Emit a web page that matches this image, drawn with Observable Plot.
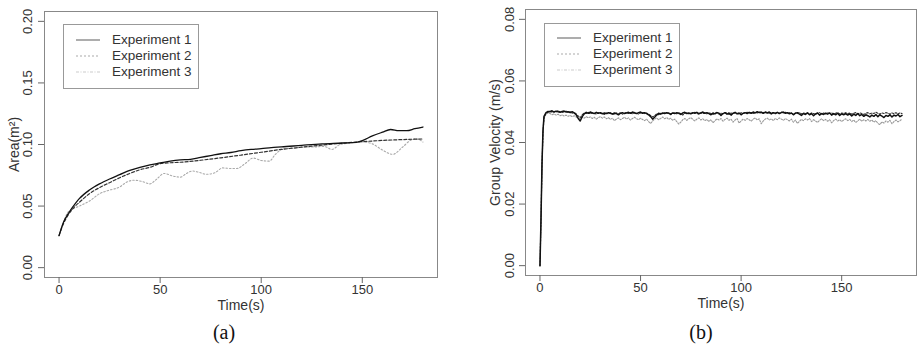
<!DOCTYPE html>
<html><head><meta charset="utf-8">
<script src="https://cdn.jsdelivr.net/npm/d3@7"></script>
<script src="https://cdn.jsdelivr.net/npm/@observablehq/plot@0.6"></script>
<style>
body{margin:0;background:#fff;}
#wrap{position:relative;width:917px;height:345px;overflow:hidden;font-family:"Liberation Sans",Arial,sans-serif;background:#fff;}
.panel{position:absolute;top:0;}
.legend{position:absolute;border:1px solid #999;background:#fff;box-sizing:border-box;}
.row{position:absolute;height:16px;line-height:16px;font-size:13.5px;color:#333;white-space:nowrap;}
.cap{position:absolute;font-family:"Liberation Serif","Times New Roman",serif;font-size:20px;color:#111;transform:translate(-50%,-50%);}
</style></head><body><div id="wrap"></div>
<script>
// ---------- shared ----------
const seriesNames = ["Experiment 1", "Experiment 2", "Experiment 3"];
const timeTicks = [0, 50, 100, 150];

// ---------- panel (a): Area ----------
const areaTicks = [0.00, 0.05, 0.10, 0.15, 0.20];
const areaTime1 = [0,2,5,8,10,15,20,25,30,35,40,45,50,55,60,65,70,75,80,85,90,95,100,105,110,120,130,140,147,150,155,160,164,168,172,176,180];
const areaExp1  = [.026,.036,.045,.052,.056,.063,.068,.072,.0755,.079,.0815,.0835,.085,.0865,.0875,.088,.0895,.091,.0925,.0935,.095,.096,.0966,.0975,.098,.0993,.1005,.1012,.1018,.1032,.107,.110,.1122,.1113,.1112,.1128,.1142];
const areaTime2 = [0,2,5,8,10,15,20,25,30,35,40,45,50,55,60,70,80,90,100,110,120,130,140,150,160,170,180];
const areaExp2  = [.026,.035,.044,.050,.053,.060,.065,.069,.073,.0765,.0795,.0815,.0845,.0852,.0856,.0872,.0892,.0914,.0937,.096,.0978,.0995,.101,.1023,.1033,.104,.1045];
const areaTime3 = [0,2,4,6,10,15,20,25,30,33,37,41,45,48,52,56,60,63,66,69,73,77,81,85,88,92,96,100,104,107,111,116,121,126,131,135,139,143,150,155,160,165,170,174,177,180];
const areaExp3  = [.026,.036,.044,.047,.050,.054,.060,.063,.0655,.069,.071,.070,.068,.0715,.0765,.0745,.0735,.0765,.0785,.0775,.0758,.077,.081,.0805,.0805,.0845,.089,.087,.0865,.092,.0965,.097,.098,.098,.0985,.096,.100,.101,.1022,.1005,.0955,.092,.098,.1035,.1045,.102];

// ---------- panel (b): Group velocity ----------
const velTicks = [0.00, 0.02, 0.04, 0.06, 0.08];
const velTime = [0, 0.5, 1, 1.5, 2].concat(d3.range(3, 181));
const velExp1 = [0,.0150,.0330,.0440,.0485,
.0497,.0501,.0500,.0503,.0499,.0502,.0500,.0498,.0501,.0502,
.0499,.0500,.0497,.0500,.0496,.0490,.0478,.0470,.0484,.0493,
.0498,.0495,.0499,.0496,.0494,.0498,.0495,.0497,.0493,.0496,
.0494,.0497,.0495,.0492,.0496,.0494,.0490,.0495,.0497,.0494,
.0496,.0498,.0495,.0499,.0496,.0494,.0497,.0499,.0495,.0497,
.0494,.0490,.0484,.0476,.0482,.0489,.0495,.0492,.0496,.0494,
.0497,.0495,.0492,.0496,.0494,.0497,.0495,.0491,.0496,.0498,
.0494,.0496,.0493,.0497,.0495,.0498,.0494,.0496,.0499,.0495,
.0497,.0494,.0490,.0496,.0493,.0497,.0495,.0488,.0494,.0497,
.0492,.0496,.0489,.0495,.0498,.0493,.0496,.0490,.0495,.0497,
.0494,.0498,.0495,.0499,.0496,.0500,.0497,.0499,.0495,.0498,
.0496,.0499,.0493,.0497,.0495,.0498,.0494,.0497,.0499,.0495,
.0497,.0493,.0496,.0490,.0495,.0497,.0492,.0488,.0494,.0491,
.0496,.0490,.0494,.0487,.0493,.0496,.0489,.0494,.0491,.0495,
.0492,.0496,.0489,.0494,.0490,.0495,.0488,.0493,.0490,.0494,
.0489,.0493,.0486,.0492,.0488,.0494,.0487,.0491,.0485,.0490,
.0487,.0483,.0489,.0485,.0491,.0484,.0490,.0486,.0481,.0488,
.0485,.0490,.0483,.0489,.0486,.0491,.0484,.0488];
const velExp2 = [0,.0145,.0325,.0435,.0482,
.0495,.0499,.0502,.0498,.0501,.0499,.0503,.0500,.0497,.0500,
.0502,.0498,.0500,.0495,.0498,.0493,.0486,.0481,.0490,.0496,
.0494,.0498,.0493,.0497,.0495,.0492,.0497,.0494,.0496,.0491,
.0496,.0493,.0497,.0494,.0491,.0496,.0493,.0497,.0492,.0495,
.0498,.0494,.0497,.0493,.0498,.0495,.0492,.0496,.0498,.0494,
.0496,.0492,.0488,.0483,.0487,.0493,.0490,.0495,.0493,.0497,
.0494,.0496,.0490,.0495,.0497,.0493,.0496,.0494,.0489,.0495,
.0497,.0493,.0496,.0494,.0498,.0495,.0492,.0497,.0494,.0496,
.0493,.0497,.0494,.0491,.0495,.0498,.0492,.0496,.0493,.0497,
.0495,.0491,.0496,.0493,.0497,.0495,.0492,.0497,.0494,.0496,
.0498,.0495,.0497,.0494,.0498,.0496,.0499,.0495,.0497,.0500,
.0497,.0495,.0498,.0496,.0493,.0497,.0495,.0499,.0496,.0498,
.0494,.0497,.0495,.0492,.0496,.0494,.0497,.0493,.0496,.0494,
.0497,.0493,.0496,.0494,.0491,.0495,.0497,.0492,.0496,.0493,
.0497,.0494,.0496,.0492,.0495,.0497,.0493,.0496,.0494,.0497,
.0493,.0496,.0492,.0495,.0497,.0493,.0496,.0494,.0491,.0495,
.0497,.0493,.0496,.0494,.0498,.0495,.0492,.0496,.0494,.0497,
.0495,.0492,.0496,.0494,.0497,.0493,.0496,.0494];
const velExp3 = [0,.0140,.0320,.0430,.0478,
.0492,.0496,.0494,.0490,.0493,.0489,.0492,.0487,.0490,.0486,
.0489,.0485,.0488,.0484,.0487,.0483,.0480,.0478,.0482,.0479,
.0484,.0480,.0483,.0478,.0482,.0476,.0481,.0484,.0479,.0483,
.0477,.0481,.0475,.0479,.0471,.0476,.0480,.0474,.0478,.0482,
.0476,.0480,.0473,.0478,.0482,.0477,.0474,.0479,.0475,.0471,
.0476,.0468,.0462,.0470,.0476,.0480,.0474,.0478,.0483,.0477,
.0481,.0475,.0479,.0472,.0476,.0468,.0460,.0466,.0474,.0478,
.0472,.0477,.0481,.0475,.0470,.0476,.0480,.0473,.0477,.0471,
.0475,.0468,.0474,.0464,.0471,.0477,.0473,.0478,.0469,.0475,
.0479,.0472,.0476,.0466,.0473,.0478,.0463,.0470,.0476,.0472,
.0478,.0474,.0469,.0476,.0480,.0473,.0477,.0461,.0470,.0476,
.0479,.0473,.0477,.0471,.0478,.0474,.0480,.0476,.0472,.0478,
.0474,.0470,.0476,.0466,.0473,.0462,.0469,.0475,.0471,.0477,
.0473,.0478,.0468,.0474,.0470,.0465,.0472,.0477,.0471,.0475,
.0469,.0474,.0464,.0471,.0476,.0470,.0474,.0468,.0473,.0477,
.0471,.0475,.0468,.0473,.0465,.0470,.0476,.0469,.0474,.0470,
.0475,.0469,.0473,.0466,.0471,.0462,.0458,.0467,.0463,.0470,
.0466,.0472,.0461,.0468,.0473,.0467,.0471,.0476];

// ---------- styles ----------
const lineStylesA = [
  {stroke: "#111", strokeWidth: 1.3, strokeDasharray: null},
  {stroke: "#333", strokeWidth: 1.2, strokeDasharray: "3,2"},
  {stroke: "#aaa", strokeWidth: 1.1, strokeDasharray: "1.5,2"}
];
const lineStylesB = [
  {stroke: "#111", strokeWidth: 1.5, strokeDasharray: null},
  {stroke: "#333", strokeWidth: 1.1, strokeDasharray: "2,1.5"},
  {stroke: "#999", strokeWidth: 1.1, strokeDasharray: "1.5,1.5"}
];
const legendStyles = [
  {stroke: "#999", dash: null, w: 1.6},
  {stroke: "#aaa", dash: "2,2", w: 1.2},
  {stroke: "#ccc", dash: "3,1.5,1,1.5", w: 1.2}
];

function toRows(times, vals) { return vals.map((v, i) => ({t: times[i], v})); }

function makePanel(o) {
  const marks = [
    Plot.frame({stroke: "#888", strokeWidth: 1}),
    Plot.axisX({ticks: timeTicks, tickSize: 6, tickFormat: () => "", stroke: "#666", label: null}),
    Plot.axisY({ticks: o.yTicks, tickSize: 6, tickFormat: () => "", stroke: "#666", label: null}),
    Plot.text(timeTicks, {x: d => d, frameAnchor: "bottom", dy: 12, text: d => String(d), fontSize: 13, fill: "#333", textAnchor: "middle", lineAnchor: "middle"}),
    Plot.text(o.yTicks, {y: d => d, frameAnchor: "left", dx: o.yLabDx, rotate: -90, text: d => d3.format(".2f")(d), fontSize: 13, fill: "#333", textAnchor: "middle", lineAnchor: "middle"}),
    Plot.text(["Time(s)"], {frameAnchor: "bottom", dy: o.xTitleDy, text: d => d, fontSize: 14, fill: "#333", textAnchor: "middle", lineAnchor: "middle"}),
    Plot.text([o.yTitle], {frameAnchor: "left", dx: o.yTitleDx, rotate: -90, text: d => d, fontSize: 14, fill: "#333", textAnchor: "middle", lineAnchor: "middle"})
  ];
  [2, 1, 0].forEach(k => {
    marks.push(Plot.line(o.series[k], {x: "t", y: "v", curve: o.curve, ...o.styles[k]}));
  });
  return Plot.plot({
    width: o.width, height: 318,
    marginLeft: o.mL, marginRight: o.mR, marginTop: o.mT, marginBottom: o.mB,
    x: {domain: [-7.2, 187.2], axis: null},
    y: {domain: o.yDomain, axis: null},
    style: {fontFamily: "'Liberation Sans', Arial, sans-serif", background: "white", overflow: "visible"},
    marks
  });
}

const wrap = document.getElementById("wrap");

function addPanel(left, o) {
  const div = document.createElement("div");
  div.className = "panel";
  div.style.left = left + "px";
  div.appendChild(makePanel(o));
  wrap.appendChild(div);
}

addPanel(0, {
  width: 460, mL: 44, mR: 23, mT: 11, mB: 41,
  yDomain: [-0.008, 0.208], yTicks: areaTicks, yLabDx: -17,
  yTitle: "Area(m²)", yTitleDx: -30, xTitleDy: 28, curve: "monotone-x", styles: lineStylesA,
  series: [toRows(areaTime1, areaExp1), toRows(areaTime2, areaExp2), toRows(areaTime3, areaExp3)]
});
addPanel(460, {
  width: 457, mL: 65, mR: 1, mT: 9, mB: 43,
  yDomain: [-0.0032, 0.0832], yTicks: velTicks, yLabDx: -16,
  yTitle: "Group Velocity (m/s)", yTitleDx: -30, xTitleDy: 28, curve: "linear", styles: lineStylesB,
  series: [toRows(velTime, velExp1), toRows(velTime, velExp2), toRows(velTime, velExp3)]
});

function addLegend(x, y, w, h, sampleX, textX, rowYs) {
  const lg = document.createElement("div");
  lg.className = "legend";
  Object.assign(lg.style, {left: x + "px", top: y + "px", width: w + "px", height: h + "px"});
  seriesNames.forEach((name, i) => {
    const s = legendStyles[i];
    const svg = d3.create("svg").attr("width", 26).attr("height", 6)
      .style("position", "absolute").style("left", (sampleX - x - 1) + "px").style("top", (rowYs[i] - y - 1 - 3) + "px");
    svg.append("line").attr("x1", 0).attr("x2", 24).attr("y1", 3).attr("y2", 3)
      .attr("stroke", s.stroke).attr("stroke-width", s.w).attr("stroke-dasharray", s.dash);
    lg.appendChild(svg.node());
    const r = document.createElement("div");
    r.className = "row";
    r.textContent = name;
    Object.assign(r.style, {left: (textX - x - 1) + "px", top: (rowYs[i] - y - 1 - 8) + "px"});
    lg.appendChild(r);
  });
  wrap.appendChild(lg);
}
addLegend(63, 24, 136, 65, 76, 112, [40, 56, 72]);
addLegend(544, 23, 136, 64, 557, 593, [38, 54, 70]);

function addCap(text, x, y) {
  const c = document.createElement("div");
  c.className = "cap"; c.textContent = text;
  c.style.left = x + "px"; c.style.top = y + "px";
  wrap.appendChild(c);
}
addCap("(a)", 224, 332);
addCap("(b)", 701, 332);
</script></body></html>
